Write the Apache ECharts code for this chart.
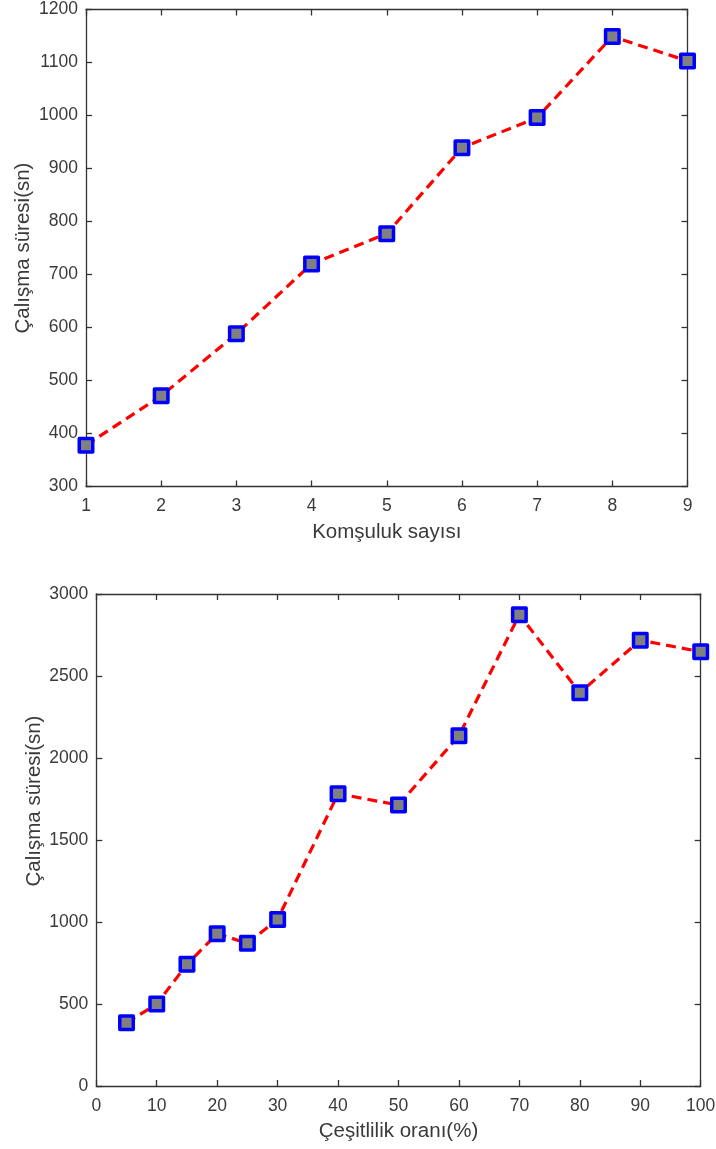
<!DOCTYPE html>
<html>
<head>
<meta charset="utf-8">
<script src="https://cdn.jsdelivr.net/npm/echarts@6/dist/echarts.min.js"></script>
<style>
  html, body { margin: 0; padding: 0; background: #ffffff; }
  #chart { width: 716px; height: 1149px; }
</style>
</head>
<body>
<div id="chart"></div>
<script>
// Running time vs. neighbourhood count
const komsulukSayisi = [1, 2, 3, 4, 5, 6, 7, 8, 9];
const sureKomsuluk = [378, 471, 588, 720, 777, 939, 996, 1149, 1103];

// Running time vs. diversity ratio (%)
const cesitlilikOrani = [5, 10, 15, 20, 25, 30, 40, 50, 60, 70, 80, 90, 100];
const sureCesitlilik = [386, 500, 742, 929, 870, 1016, 1782, 1713, 2136, 2874, 2398, 2718, 2648];

const yTitle = 'Çalışma süresi(sn)';
const xTitleTop = 'Komşuluk sayısı';
const xTitleBottom = 'Çeşitlilik oranı(%)';

const FONT = '"Liberation Sans", Arial, Helvetica, sans-serif';
const AXIS_COLOR = '#333333';
const TEXT_COLOR = '#3a3a3a';

function pairs(xs, ys) { return xs.map((x, i) => [x, ys[i]]); }

function mainAxis(gridIndex, pos, min, max, interval, name, nameGap, namePadding) {
  return {
    type: 'value', gridIndex, position: pos, min, max, interval,
    name, nameLocation: 'middle', nameGap, nameMoveOverlap: false,
    nameTextStyle: { fontFamily: FONT, fontSize: 20.5, color: TEXT_COLOR, padding: namePadding || 0 },
    axisLine: { show: true, onZero: false, lineStyle: { color: AXIS_COLOR, width: 1.3 } },
    axisTick: { show: true, inside: true, length: 6, lineStyle: { color: AXIS_COLOR, width: 1.3 } },
    axisLabel: { show: true, fontFamily: FONT, fontSize: 17.5, color: TEXT_COLOR,
                 margin: (pos === 'bottom') ? 11 : 8,
                 formatter: (v) => String(v) },
    splitLine: { show: false }
  };
}

function boxAxis(gridIndex, pos, min, max, interval) {
  return {
    type: 'value', gridIndex, position: pos, min, max, interval,
    axisLine: { show: true, onZero: false, lineStyle: { color: AXIS_COLOR, width: 1.3 } },
    axisTick: { show: true, inside: true, length: 6, lineStyle: { color: AXIS_COLOR, width: 1.3 } },
    axisLabel: { show: false },
    splitLine: { show: false }
  };
}

function lineSeries(xAxisIndex, yAxisIndex, data) {
  return {
    type: 'line', xAxisIndex, yAxisIndex, data,
    clip: false,
    symbol: 'rect', symbolSize: 13.5,
    lineStyle: { color: '#ff0000', width: 3.2, type: [10, 6] },
    itemStyle: { color: '#808080', borderColor: '#0000ff', borderWidth: 3.5, borderJoin: 'round' },
    emphasis: { disabled: true },
    animation: false
  };
}

const chart = echarts.init(document.getElementById('chart'), null, { renderer: 'canvas' });
chart.setOption({
  backgroundColor: '#ffffff',
  animation: false,
  grid: [
    { left: 86, top: 9.5, width: 601.5, height: 477, containLabel: false, outerBoundsMode: 'none' },
    { left: 96.3, top: 594, width: 604.4, height: 492, containLabel: false, outerBoundsMode: 'none' }
  ],
  xAxis: [
    mainAxis(0, 'bottom', 1, 9, 1, xTitleTop, 35),
    boxAxis(0, 'top', 1, 9, 1),
    mainAxis(1, 'bottom', 0, 100, 10, xTitleBottom, 35),
    boxAxis(1, 'top', 0, 100, 10)
  ],
  yAxis: [
    mainAxis(0, 'left', 300, 1200, 100, yTitle, 52),
    boxAxis(0, 'right', 300, 1200, 100),
    mainAxis(1, 'left', 0, 3000, 500, yTitle, 51, [0, 0, 0, 78]),
    boxAxis(1, 'right', 0, 3000, 500)
  ],
  series: [
    lineSeries(0, 0, pairs(komsulukSayisi, sureKomsuluk)),
    lineSeries(2, 2, pairs(cesitlilikOrani, sureCesitlilik))
  ]
});
</script>
</body>
</html>
